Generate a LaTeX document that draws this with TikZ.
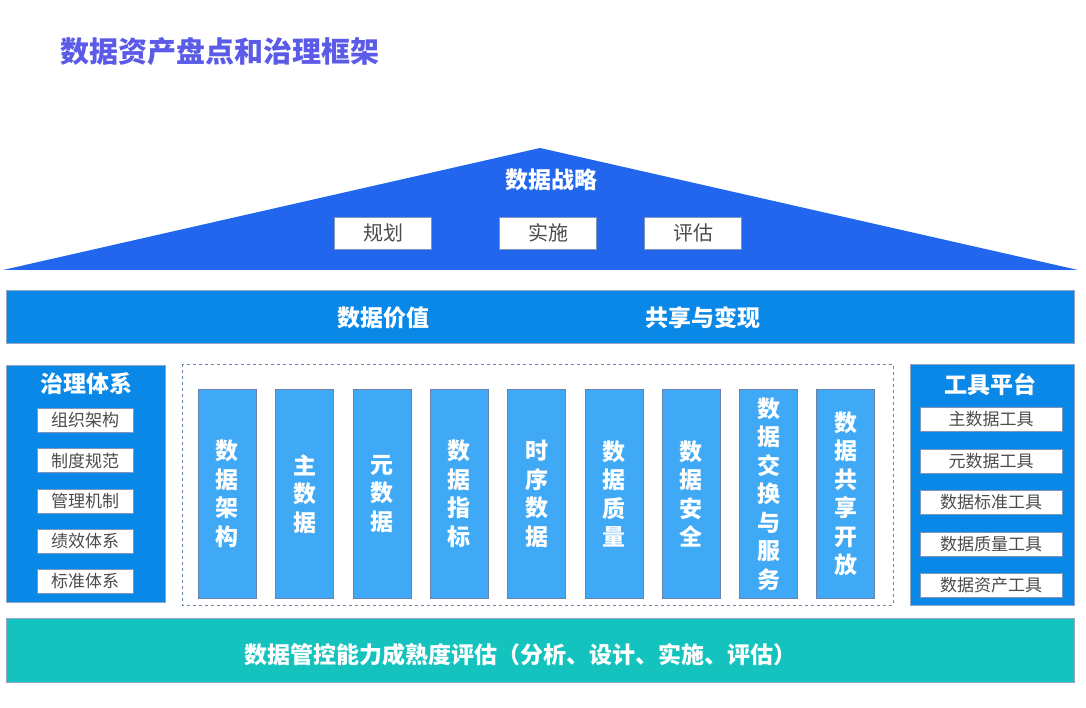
\documentclass[tikz,border=0pt]{standalone}
\usepackage{fontspec}
\setmainfont{Noto Sans CJK SC}
\usetikzlibrary{positioning}
\definecolor{roofblue}{HTML}{2266EE}
\definecolor{bandblue}{HTML}{0A88E8}
\definecolor{colblue}{HTML}{3FA9F5}
\definecolor{basecyan}{HTML}{14C3BE}
\definecolor{titleblue}{HTML}{5B5BE8}
\definecolor{edgeblue}{HTML}{2A4E8A}
\tikzset{whitebox/.style={draw=edgeblue!60,fill=white,text=black!70,line width=0.8pt,inner sep=0,font=\fontsize{20}{20}\selectfont},
    itembox/.style={draw=edgeblue!60,fill=white,text=black!70,line width=0.8pt,inner sep=0,font=\fontsize{17}{17}\selectfont},
    panel/.style={draw=edgeblue!50,fill=bandblue,line width=0.6pt},
    colbox/.style={draw=edgeblue!70,fill=colblue,line width=0.8pt,minimum width=58pt,minimum height=209pt,anchor=north west,inner sep=0,text=white,align=center,font=\bfseries\fontsize{23}{28.5}\selectfont},
    whitetext/.style={text=white,font=\bfseries\fontsize{23}{23}\selectfont}}
\begin{document}
\begin{tikzpicture}[x=1pt,y=-1pt]
\useasboundingbox (0,0) rectangle (1086,708);

\node (title) [anchor=west,text=titleblue,font=\bfseries\fontsize{29}{29}\selectfont] at (57,52) {数据资产盘点和治理框架};

% roof
\fill [roofblue] (3,270) -- (540,148) -- (1078,270) -- cycle;
\node (strategy) [whitetext] at (551,180) {数据战略};
\node (plan) [whitebox,minimum width=97pt,minimum height=32pt] at (383,233) {规划};
\node (impl) [whitebox,minimum width=97pt,minimum height=32pt] at (548,233) {实施};
\node (eval) [whitebox,minimum width=97pt,minimum height=32pt] at (693,233) {评估};

% value band
\draw [panel] (6,290) rectangle (1074,343);
\node (value) [whitetext] at (383,318) {数据价值};
\node (share) [whitetext] at (703,318) {共享与变现};

% governance
\draw [panel] (6,365) rectangle (165,602);
\node (gov) [whitetext] at (86,384) {治理体系};
\foreach \t [count=\i] in {组织架构,制度规范,管理机制,绩效体系,标准体系}
  \node (gov \i) [itembox,minimum width=96pt,minimum height=24pt] at (85,380+40.3*\i) {\t};

% domains
\draw [edgeblue!70,dashed,line width=0.8pt] (182,364) rectangle (893,605);
\foreach \t [count=\i] in {{数\\据\\架\\构},{主\\数\\据},{元\\数\\据},{数\\据\\指\\标},{时\\序\\数\\据},{数\\据\\质\\量},{数\\据\\安\\全},{数\\据\\交\\换\\与\\服\\务},{数\\据\\共\\享\\开\\放}}
  \node (dom \i) [colbox] at (198+77.3*\i-77.3,389) {\t};

% tools
\draw [panel] (910,364) rectangle (1074,605);
\node (tools) [whitetext] at (990,385) {工具平台};
\foreach \t [count=\i] in {主数据工具,元数据工具,数据标准工具,数据质量工具,数据资产工具}
  \node (tool \i) [itembox,minimum width=142pt,minimum height=24pt] at (991,378+41.5*\i) {\t};

% base
\draw [draw=edgeblue!50,fill=basecyan,line width=0.6pt] (6,618) rectangle (1074,682);
\node (maturity) [whitetext] at (520,655) {数据管控能力成熟度评估（分析、设计、实施、评估）};
\end{tikzpicture}
\end{document}
